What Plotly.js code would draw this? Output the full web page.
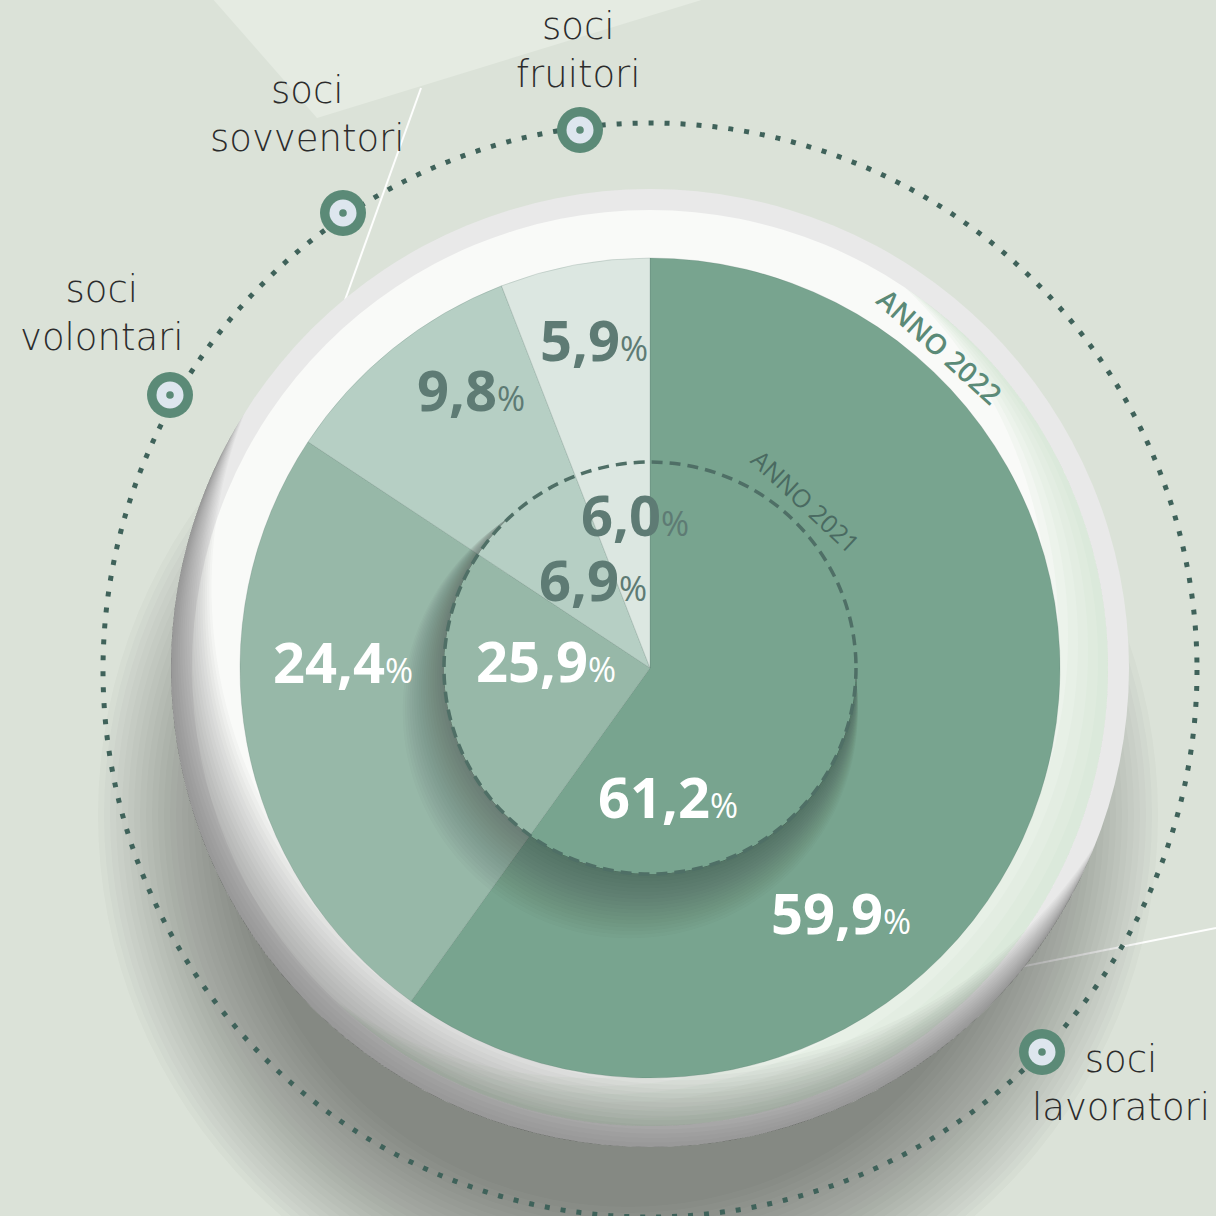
<!DOCTYPE html>
<html>
<head>
<meta charset="utf-8">
<script src="https://cdn.plot.ly/plotly-3.0.1.min.js"></script>
<style>
html,body{margin:0;padding:0;background:#dbe2d8;}
#chart{width:1216px;height:1216px;}
</style>
</head>
<body>
<div id="chart"></div>
<script>
// ---------------- DATA ----------------
const categories = ['soci lavoratori', 'soci volontari', 'soci sovventori', 'soci fruitori'];
const values2022 = [59.9, 24.4, 9.8, 5.9];
const values2021 = [61.2, 25.9, 6.9, 6.0];
const yearLabels = ['ANNO 2022', 'ANNO 2021'];

// ---------------- STYLE / LAYOUT CONSTANTS ----------------
const sliceColors = ['#78a48f', '#97b8a8', '#b6cfc4', '#dce7e1'];
const valueTextColors = ['#ffffff', '#ffffff', '#5e7b74', '#5e7b74'];
const W = 1216, H = 1216;
const CX = 650, CY = 668;          // pie centre (px)
const R_PIE = 410, R_BAND = 458, R_RING = 479, R_INNER = 206;
const DOT_CX = 650, DOT_CY = 670, R_DOT = 547;

// label positions (px) for the value texts
const pos2022 = [[841, 912], [343, 661], [471, 389], [594, 339]];
const pos2021 = [[668, 796], [546, 660], [593, 579], [635, 514]];
// category label block centres (px)
const catPos = [[1121, 1083], [102, 313], [307, 114], [578, 51]];
// marker positions on the dotted circle (px)
const markerPos = [[1042, 1052], [170, 395], [343, 213], [580, 130]];

const px = v => v / W;
const py = v => 1 - v / H;

function circ(cx, cy, r, fill, extra) {
  return Object.assign({type: 'circle', xref: 'paper', yref: 'paper',
    x0: px(cx - r), x1: px(cx + r), y0: py(cy + r), y1: py(cy - r),
    fillcolor: fill, line: {width: 0}, layer: 'below'}, extra || {});
}
function arcPts(cx, cy, r, a0, a1, n) {
  const pts = [];
  for (let i = 0; i <= n; i++) {
    const a = a0 + (a1 - a0) * i / n;
    pts.push([cx + r * Math.cos(a), cy + r * Math.sin(a)]);
  }
  return pts;
}
// region inside circle 1 but outside circle 2
function crescent(c1x, c1y, r1, c2x, c2y, r2, fill, layer) {
  const dx = c2x - c1x, dy = c2y - c1y, d = Math.hypot(dx, dy);
  const a = (r1 * r1 - r2 * r2 + d * d) / (2 * d);
  const b = d - a;
  const alpha = Math.atan2(dy, dx);
  const d1 = Math.acos(Math.max(-1, Math.min(1, a / r1)));
  const d2 = Math.acos(Math.max(-1, Math.min(1, b / r2)));
  const p1 = arcPts(c1x, c1y, r1, alpha + d1, alpha + 2 * Math.PI - d1, 140);
  let p2 = arcPts(c2x, c2y, r2, alpha + Math.PI - d2, alpha + Math.PI + d2, 90);
  const last = p1[p1.length - 1];
  if (Math.hypot(p2[0][0] - last[0], p2[0][1] - last[1]) > Math.hypot(p2[p2.length - 1][0] - last[0], p2[p2.length - 1][1] - last[1])) p2.reverse();
  const all = p1.concat(p2);
  const path = 'M ' + all.map(p => px(p[0]).toFixed(5) + ' ' + py(p[1]).toFixed(5)).join(' L ') + ' Z';
  return {type: 'path', xref: 'paper', yref: 'paper', path: path, fillcolor: fill, line: {width: 0}, layer: layer || 'below'};
}

const shapes = [];
// background + decorative planes
shapes.push({type: 'rect', xref: 'paper', yref: 'paper', x0: 0, x1: 1, y0: 0, y1: 1, fillcolor: '#dbe2d8', line: {width: 0}, layer: 'below'});
shapes.push({type: 'path', xref: 'paper', yref: 'paper',
  path: `M ${px(203)} 1.01 L ${px(317)} ${py(118)} L ${px(741)} 1.01 Z`, fillcolor: '#e5ebe2', line: {width: 0}, layer: 'below'});
shapes.push({type: 'line', xref: 'paper', yref: 'paper', x0: px(421), y0: py(88), x1: px(345), y1: py(300), line: {color: 'rgba(255,255,255,0.95)', width: 2}, layer: 'below'});
shapes.push({type: 'line', xref: 'paper', yref: 'paper', x0: px(1020), y0: py(967), x1: px(1216), y1: py(928), line: {color: 'rgba(255,255,255,0.95)', width: 2}, layer: 'below'});

// drop shadow of the disc (bottom-left)
for (let k = 0; k < 24; k++) {
  shapes.push(circ(628, 815, 392 + 6 * k, 'rgba(55,58,50,0.024)'));
}
// ring + white band
shapes.push(circ(CX, CY, R_RING, '#e9e9e9'));
shapes.push(circ(CX, CY, R_BAND, '#f9faf8'));
// green tint on the right side of the band
for (let k = 1; k <= 6; k++) {
  shapes.push(crescent(CX, CY, R_BAND, CX - 10 * k, CY - 8 * k, R_BAND, 'rgba(196,220,200,0.12)'));
}
// inner shading of ring/band toward bottom-left
for (let k = 1; k <= 18; k++) {
  shapes.push(crescent(CX, CY, R_RING, CX + 0.45 * 5 * k, CY - 0.89 * 5 * k, R_RING, 'rgba(72,70,72,0.032)'));
}

// shadow cast by the inner (2021) circle on the pie
for (let k = 1; k <= 18; k++) {
  shapes.push(crescent(CX - 0.42 * 2.6 * k, CY + 0.91 * 2.6 * k, R_INNER + 1.2 * k, CX, CY, R_INNER, 'rgba(30,50,42,0.022)', 'above'));
}
// dashed inner circle
shapes.push({type: 'circle', xref: 'paper', yref: 'paper',
  x0: px(CX - R_INNER), x1: px(CX + R_INNER), y0: py(CY + R_INNER), y1: py(CY - R_INNER),
  fillcolor: 'rgba(0,0,0,0)', line: {color: '#4f6f66', width: 3.5, dash: '11px,7px'}, layer: 'above'});
// dotted outer circle
shapes.push({type: 'circle', xref: 'paper', yref: 'paper',
  x0: px(DOT_CX - R_DOT), x1: px(DOT_CX + R_DOT), y0: py(DOT_CY + R_DOT), y1: py(DOT_CY - R_DOT),
  fillcolor: 'rgba(0,0,0,0)', line: {color: '#3f625a', width: 5, dash: '5px,11px'}, layer: 'above'});
// markers
markerPos.forEach(p => {
  shapes.push(circ(p[0], p[1], 23, '#5b8a77', {layer: 'above'}));
  shapes.push(circ(p[0], p[1], 13.5, '#dde6ee', {layer: 'above'}));
  shapes.push(circ(p[0], p[1], 3.8, '#5b8a77', {layer: 'above'}));
});

// ---------------- ANNOTATIONS ----------------
const fmt = v => v.toFixed(1).replace('.', ',');
const annotations = [];
function valueAnn(v, p, color) {
  return {xref: 'paper', yref: 'paper', x: px(p[0]), y: py(p[1]), xanchor: 'center', yanchor: 'middle', showarrow: false,
    text: '<b>' + fmt(v) + '</b><span style="font-size:34px;font-weight:400">%</span>',
    font: {family: "'Open Sans', sans-serif", size: 56, color: color, weight: 700}};
}
values2022.forEach((v, i) => annotations.push(valueAnn(v, pos2022[i], valueTextColors[i])));
values2021.forEach((v, i) => annotations.push(valueAnn(v, pos2021[i], valueTextColors[i])));

categories.forEach((c, i) => {
  annotations.push({xref: 'paper', yref: 'paper', x: px(catPos[i][0]), y: py(catPos[i][1]), xanchor: 'center', yanchor: 'middle',
    showarrow: false, text: c.split(' ').join('<br>'), align: 'center', borderpad: 0,
    font: {family: "'DejaVu Sans', Lato, sans-serif", size: 37, color: '#2c2c2c', weight: 200}});
});

function yearAnn(txt, thetaDeg, r, size, color, weight) {
  const t = thetaDeg * Math.PI / 180;
  return {xref: 'paper', yref: 'paper', x: px(CX + r * Math.sin(t)), y: py(CY - r * Math.cos(t)), xanchor: 'center', yanchor: 'middle',
    showarrow: false, text: txt, textangle: thetaDeg, font: {family: "'Open Sans', sans-serif", size: size, color: color, weight: weight}};
}
annotations.push(yearAnn(yearLabels[0], 42, 433, 28, '#5b8a77', 600));
annotations.push(yearAnn(yearLabels[1], 43, 229, 25, '#4a6a61', 500));

// ---------------- PIE ----------------
const pie = {
  type: 'pie', values: values2022, labels: categories, sort: false, direction: 'clockwise', rotation: 0,
  marker: {colors: sliceColors, line: {color: 'rgba(80,110,100,0.25)', width: 0.8}},
  textinfo: 'none', hoverinfo: 'none', showlegend: false,
  domain: {x: [px(CX - R_PIE), px(CX + R_PIE)], y: [py(CY + R_PIE), py(CY - R_PIE)]}
};

const layout = {
  width: W, height: H, margin: {l: 0, r: 0, t: 0, b: 0},
  paper_bgcolor: '#dbe2d8', plot_bgcolor: '#dbe2d8', showlegend: false,
  shapes: shapes, annotations: annotations
};
Plotly.newPlot('chart', [pie], layout, {staticPlot: true, displayModeBar: false});
</script>
</body>
</html>
